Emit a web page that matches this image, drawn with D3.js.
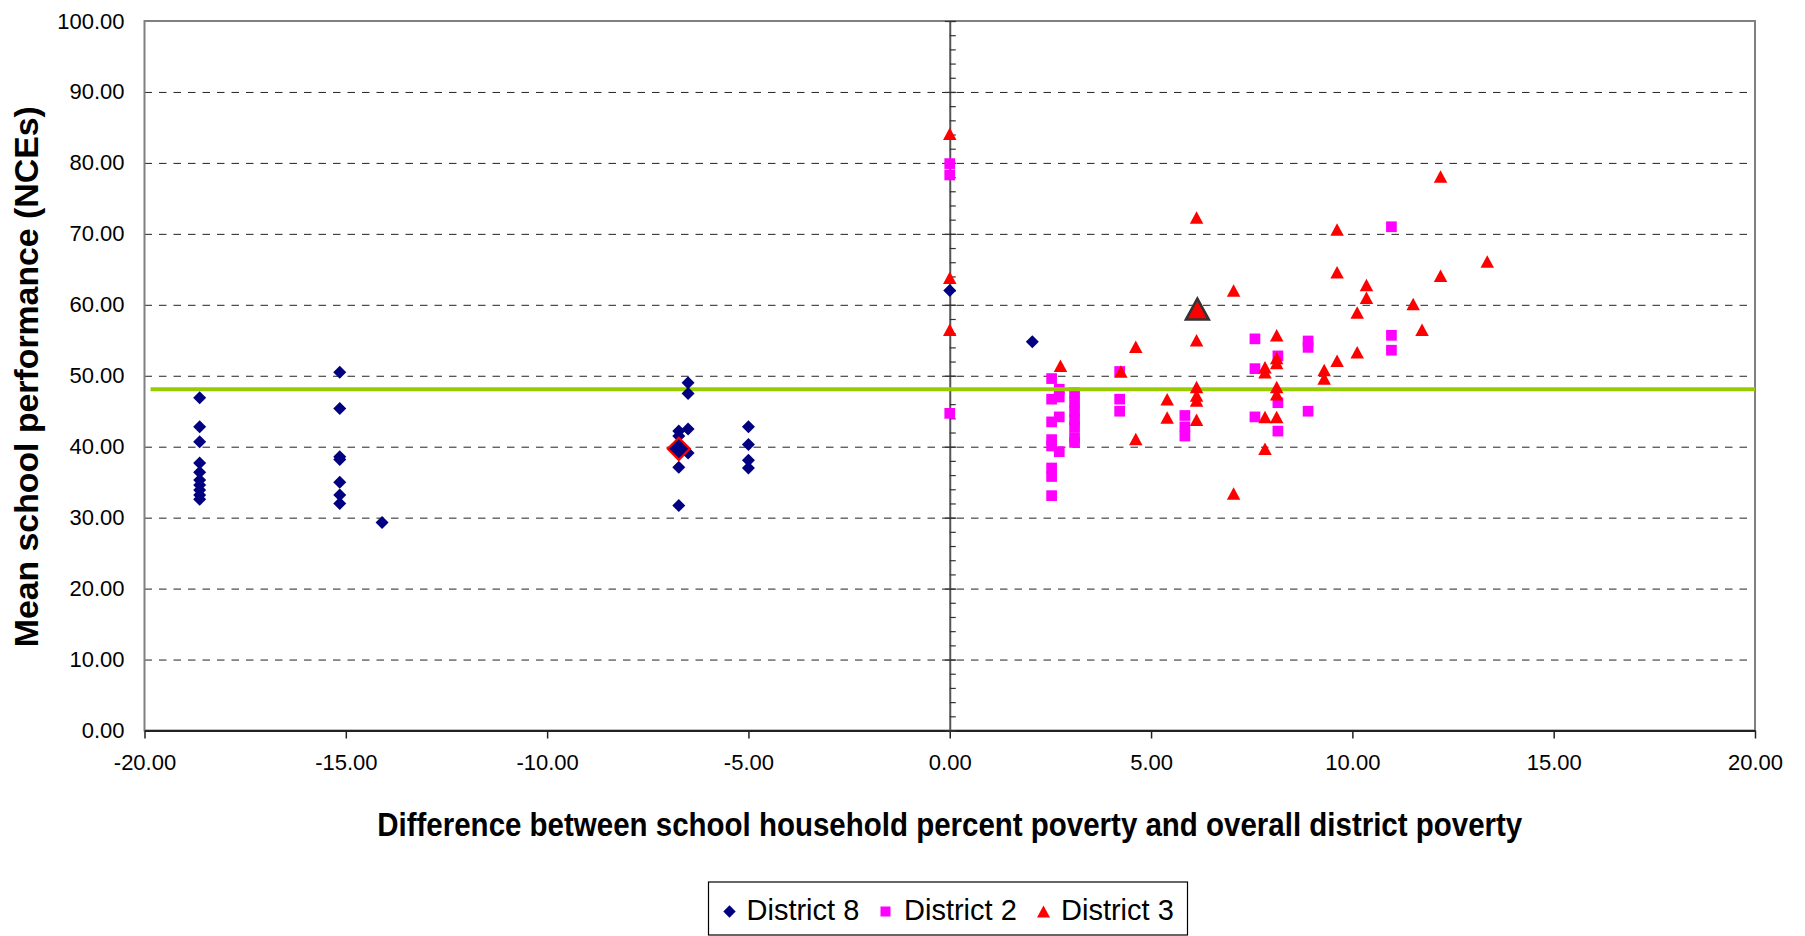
<!DOCTYPE html>
<html>
<head>
<meta charset="utf-8">
<script src="https://cdn.jsdelivr.net/npm/d3@7"></script>
<style>
  html, body { margin: 0; padding: 0; background: #fff; }
  svg { display: block; }
  text { font-family: "Liberation Sans", Arial, Helvetica, sans-serif; fill: #000; }
</style>
</head>
<body>
<svg id="chart" width="1805" height="936"></svg>
<script>
// ---------------- data ----------------
const xTicks = [-20, -15, -10, -5, 0, 5, 10, 15, 20];
const yTicks = [0, 10, 20, 30, 40, 50, 60, 70, 80, 90, 100];
const yMinorTicks = d3.range(0, 101, 2);

const seriesNames = ["District 8", "District 2", "District 3"];

const district8 = [
  [-18.63, 46.9], [-18.63, 42.8], [-18.63, 40.7], [-18.63, 37.7], [-18.63, 36.4],
  [-18.63, 35.3], [-18.63, 34.6], [-18.63, 33.9], [-18.63, 33.2], [-18.63, 32.6],
  [-15.15, 50.5], [-15.15, 45.4], [-15.15, 38.6], [-15.15, 38.2], [-15.15, 35.0],
  [-15.15, 33.2], [-15.15, 32.0],
  [-14.1, 29.3],
  [-6.73, 42.2], [-6.73, 41.5], [-6.73, 39.4], [-6.73, 37.1], [-6.73, 31.7],
  [-6.5, 49.0], [-6.5, 47.5], [-6.5, 42.5], [-6.5, 39.1],
  [-5.0, 42.8], [-5.0, 40.3], [-5.0, 38.1], [-5.0, 37.0],
  [0, 62.0], [2.05, 54.8]
];

const district2 = [
  [0, 79.9], [0, 78.3], [0, 44.7],
  [2.53, 49.6], [2.53, 46.7], [2.53, 43.5], [2.53, 41.0], [2.53, 40.1], [2.53, 37.0], [2.53, 35.8], [2.53, 33.1],
  [2.72, 48.1], [2.72, 47.0], [2.72, 44.2], [2.72, 39.3],
  [3.1, 47.6], [3.1, 46.3], [3.1, 45.0], [3.1, 43.8], [3.1, 42.8], [3.1, 41.3], [3.1, 40.6],
  [4.22, 50.6], [4.22, 46.7], [4.22, 45.0],
  [5.84, 44.4], [5.84, 42.8], [5.84, 41.5],
  [7.58, 55.2], [7.58, 51.0], [7.58, 44.2],
  [8.15, 52.8], [8.15, 46.2], [8.15, 42.2],
  [8.9, 54.9], [8.9, 54.0], [8.9, 45.0],
  [10.97, 71.0], [10.97, 55.7], [10.97, 53.6]
];

const district3 = [
  [0, 84.1], [0, 63.8], [0, 56.5],
  [2.75, 51.4], [4.25, 50.6], [4.62, 54.1], [4.62, 41.1], [5.4, 46.7], [5.4, 44.1],
  [6.13, 72.3], [6.13, 55.0], [6.13, 48.4], [6.13, 47.2], [6.13, 46.5], [6.13, 43.8],
  [7.05, 62.0], [7.05, 33.4],
  [7.83, 51.2], [7.83, 50.5], [7.83, 44.2], [7.83, 39.7],
  [8.12, 55.7], [8.12, 52.5], [8.12, 51.8], [8.12, 48.4], [8.12, 47.4], [8.12, 44.2],
  [9.3, 50.8], [9.3, 49.6],
  [9.62, 70.6], [9.62, 64.6], [9.62, 52.1],
  [10.12, 58.9], [10.12, 53.3],
  [10.35, 62.8], [10.35, 61.0],
  [11.51, 60.1], [11.73, 56.5],
  [12.19, 78.1], [12.19, 64.1], [13.35, 66.1]
];

const highlight8 = [[-6.73, 39.7]];
const highlight3 = [[6.15, 59.4]];

const averageLine = [[-19.85, 48.1], [20, 48.1]];

const xTitle = "Difference between school household percent poverty and overall district poverty";
const yTitle = "Mean school performance (NCEs)";

// ---------------- layout ----------------
const svg = d3.select("#chart");
const L = 144.5, R = 1755, T = 21, B = 730.5;

const x = d3.scaleLinear().domain([-20, 20]).range([L, R]);
const y = d3.scaleLinear().domain([0, 100]).range([B, T]);

const fmt = v => d3.format(".2f")(v).replace("\u2212", "-");

const colors = { d8: "#000080", d2: "#FF00FF", d3: "#FF0000", avg: "#99CC00" };

// marker path builders (centered at 0,0)
function diamondPath(r) { return `M0,${-r}L${r},0L0,${r}L${-r},0Z`; }
function squarePath(s) { const h = s / 2; return `M${-h},${-h}H${h}V${h}H${-h}Z`; }
function trianglePath(w, h) { return `M0,${-h / 2}L${w / 2},${h / 2}L${-w / 2},${h / 2}Z`; }

// gridlines (dashed)
svg.append("g")
  .attr("transform", `translate(${L},0)`)
  .call(d3.axisLeft(y).tickValues(yTicks.filter(v => v > 0 && v < 100)).tickSize(-(R - L)).tickFormat(""))
  .call(g => g.select(".domain").remove())
  .call(g => g.selectAll("line").attr("stroke", "#222").attr("stroke-width", 1).attr("stroke-dasharray", "7.5,7"));

// plot border
svg.append("rect")
  .attr("x", L).attr("y", T).attr("width", R - L).attr("height", B - T)
  .attr("fill", "none").attr("stroke", "#808080").attr("stroke-width", 2);

// y tick labels on the left
svg.append("g")
  .attr("transform", `translate(${L},0)`)
  .call(d3.axisLeft(y).tickValues(yTicks).tickSize(0).tickPadding(20).tickFormat(fmt))
  .call(g => g.select(".domain").remove())
  .call(g => g.selectAll("text").attr("font-size", 22).attr("font-family", "Liberation Sans, Arial, sans-serif").attr("fill", "#000"));

// x axis at bottom
svg.append("g")
  .attr("transform", `translate(0,${B})`)
  .call(d3.axisBottom(x).tickValues(xTicks).tickSize(8).tickSizeOuter(0).tickPadding(24).tickFormat(fmt))
  .call(g => g.select(".domain").attr("stroke", "#222").attr("stroke-width", 2))
  .call(g => g.selectAll("line").attr("stroke", "#222").attr("stroke-width", 1.5))
  .call(g => g.selectAll("text").attr("font-size", 22).attr("font-family", "Liberation Sans, Arial, sans-serif").attr("fill", "#000").attr("dy", "0.35em"));

// vertical value axis crossing at x = 0 (minor ticks to the right, major crossing)
const x0 = x(0);
svg.append("g")
  .attr("transform", `translate(${x0},0)`)
  .call(d3.axisRight(y).tickValues(yMinorTicks).tickSize(6).tickSizeOuter(0).tickFormat(""))
  .call(g => g.select(".domain").attr("stroke", "#555").attr("stroke-width", 2))
  .call(g => g.selectAll("line").attr("stroke", "#333").attr("stroke-width", 1.2));
svg.append("g")
  .attr("transform", `translate(${x0 - 5},0)`)
  .call(d3.axisRight(y).tickValues(yTicks).tickSize(11).tickSizeOuter(0).tickFormat(""))
  .call(g => g.select(".domain").remove())
  .call(g => g.selectAll("line").attr("stroke", "#333").attr("stroke-width", 1.2));

// District 2 squares
svg.append("g").selectAll("path").data(district2).join("path")
  .attr("d", squarePath(10.7))
  .attr("transform", d => `translate(${x(d[0])},${y(d[1])})`)
  .attr("fill", colors.d2);

// average line
svg.append("path")
  .datum(averageLine)
  .attr("d", d3.line().x(d => x(d[0])).y(d => y(d[1])))
  .attr("fill", "none").attr("stroke", colors.avg).attr("stroke-width", 4);

// District 8 diamonds
svg.append("g").selectAll("path").data(district8).join("path")
  .attr("d", diamondPath(6.5))
  .attr("transform", d => `translate(${x(d[0])},${y(d[1])})`)
  .attr("fill", colors.d8);

// District 3 triangles
svg.append("g").selectAll("path").data(district3).join("path")
  .attr("d", trianglePath(13.5, 12.5))
  .attr("transform", d => `translate(${x(d[0])},${y(d[1])})`)
  .attr("fill", colors.d3);

// highlighted points
svg.append("g").selectAll("path").data(highlight8).join("path")
  .attr("d", diamondPath(11))
  .attr("transform", d => `translate(${x(d[0])},${y(d[1])})`)
  .attr("fill", colors.d8).attr("stroke", "#FF0000").attr("stroke-width", 2.2);
svg.append("g").selectAll("path").data(highlight3).join("path")
  .attr("d", trianglePath(23, 21))
  .attr("transform", d => `translate(${x(d[0])},${y(d[1])})`)
  .attr("fill", colors.d3).attr("stroke", "#333").attr("stroke-width", 2.5).attr("stroke-linejoin", "miter");

// axis titles
svg.append("text")
  .attr("x", x(0)).attr("y", 836)
  .attr("text-anchor", "middle")
  .attr("font-weight", "bold").attr("font-size", 34)
  .attr("textLength", 1145).attr("lengthAdjust", "spacingAndGlyphs")
  .text(xTitle);

svg.append("text")
  .attr("transform", `translate(38,${(T + B) / 2 + 1}) rotate(-90)`)
  .attr("text-anchor", "middle")
  .attr("font-weight", "bold").attr("font-size", 34)
  .attr("textLength", 541).attr("lengthAdjust", "spacingAndGlyphs")
  .text(yTitle);

// legend
const legend = svg.append("g");
legend.append("rect")
  .attr("x", 708.5).attr("y", 882).attr("width", 479).attr("height", 53)
  .attr("fill", "#fff").attr("stroke", "#000").attr("stroke-width", 1.2);

const legendItems = [
  { name: seriesNames[0], mx: 729.5, tx: 746.5, d: diamondPath(6.2), c: colors.d8 },
  { name: seriesNames[1], mx: 885.5, tx: 904, d: squarePath(10), c: colors.d2 },
  { name: seriesNames[2], mx: 1043.5, tx: 1061, d: trianglePath(13, 12), c: colors.d3 }
];
const li = legend.selectAll("g.item").data(legendItems).join("g").attr("class", "item");
li.append("path").attr("d", d => d.d).attr("transform", d => `translate(${d.mx},911.5)`).attr("fill", d => d.c);
li.append("text").attr("x", d => d.tx).attr("y", 919.5).attr("font-size", 29).text(d => d.name);
</script>
</body>
</html>
